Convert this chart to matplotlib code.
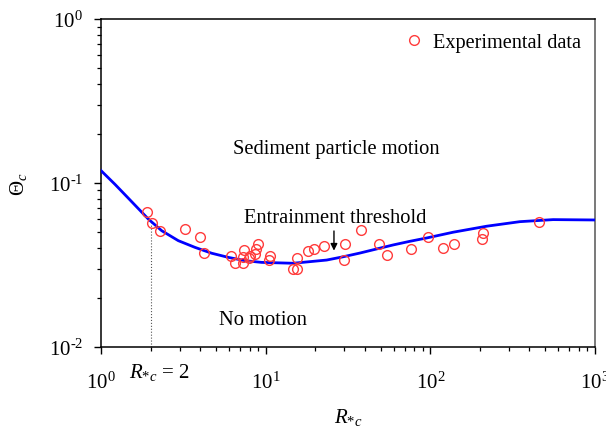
import matplotlib
matplotlib.use("Agg")
from matplotlib import pyplot as plt
from matplotlib.ticker import LogLocator, NullFormatter, FuncFormatter
import numpy as np

plt.rcParams['font.family'] = ['Liberation Serif', 'DejaVu Serif']
plt.rcParams['mathtext.fontset'] = 'custom'
plt.rcParams['mathtext.rm'] = 'Liberation Serif'
plt.rcParams['mathtext.it'] = 'Liberation Serif:italic'

# threshold curve
curve_x = [1.0, 1.216, 1.465, 1.937, 2.336, 2.946, 3.721, 4.70, 5.93, 7.49,
           9.46, 14.7, 23.5, 29.6, 37.4, 47.2, 59.5, 75.2, 95.0, 137.7,
           219.8, 350, 557, 1000]
curve_y = [0.119, 0.0981, 0.0808, 0.0603, 0.0512, 0.0445, 0.0405, 0.0373, 0.0352, 0.0336,
           0.0328, 0.0324, 0.0339, 0.0355, 0.0374, 0.0396, 0.0419, 0.0441, 0.0462, 0.0501,
           0.0545, 0.0581, 0.0598, 0.0595]

# experimental points
exp_x = [1.91, 2.04, 2.28, 3.25, 4.01, 4.20, 6.18, 6.48, 7.38, 7.25,
         7.31, 7.89, 8.03, 8.58, 8.73, 8.98, 10.5, 10.7, 14.6, 15.6,
         15.6, 18.1, 19.7, 22.7, 29.9, 30.2, 38.1, 48.5, 54.7, 76.2,
         96.7, 119, 140, 210, 205, 458]
exp_y = [0.0668, 0.0568, 0.0508, 0.0524, 0.0467, 0.0376, 0.0359, 0.0327, 0.0389, 0.0355,
         0.0327, 0.0347, 0.0360, 0.0367, 0.0394, 0.0425, 0.0341, 0.0357, 0.0298, 0.0298,
         0.0347, 0.0387, 0.0396, 0.0415, 0.0338, 0.0425, 0.0517, 0.0425, 0.0365, 0.0396,
         0.0469, 0.0403, 0.0426, 0.0498, 0.0456, 0.0581]

fig = plt.figure(figsize=(6.06, 4.31), dpi=100)
ax = fig.add_axes([0.1667, 0.1926, 0.815, 0.761])

ax.plot(curve_x, curve_y, color='#0000ff', lw=2.0, zorder=3)
ax.plot(exp_x, exp_y, 'o', mfc='none', mec='#ff3b3b', ms=7, mew=1.0,
        label='Experimental data', zorder=4)

# R*c = 2 marker line
ax.plot([2, 2], [0.01, 0.0568], color='#555555', lw=0.8, ls=':', zorder=2)

ax.set_xscale('log')
ax.set_yscale('log')
ax.set_xlim(1, 1000)
ax.set_ylim(0.01, 1)


def pow_label(v, pos):
    e = int(round(np.log10(v)))
    if e < 0:
        return r'$10^{\text{-}%d}$' % (-e)
    return r'$10^{%d}$' % e


ax.xaxis.set_major_locator(LogLocator(base=10))
ax.xaxis.set_minor_locator(LogLocator(base=10, subs=range(2, 10)))
ax.xaxis.set_major_formatter(FuncFormatter(pow_label))
ax.yaxis.set_major_formatter(FuncFormatter(pow_label))
ax.xaxis.set_minor_formatter(NullFormatter())
ax.yaxis.set_minor_formatter(NullFormatter())
ax.tick_params(which='major', direction='out', length=5, width=1.0, labelsize=15)
ax.tick_params(axis='x', which='major', pad=13)
ax.tick_params(axis='y', which='major', pad=8)
ax.tick_params(which='minor', direction='out', length=3, width=0.9)
ax.tick_params(top=False, right=False, which='both')
for s in ax.spines.values():
    s.set_linewidth(1.1)
ax.spines['right'].set_color('#555555')

ax.set_xlabel(r'$R_{*c}$', fontsize=15, labelpad=9)
ax.set_ylabel(r'$\Theta_c$', fontsize=15, labelpad=14)

ax.text(0.476, 0.604, 'Sediment particle motion', transform=ax.transAxes,
        ha='center', va='center', fontsize=14.8)
ax.text(0.474, 0.396, 'Entrainment threshold', transform=ax.transAxes,
        ha='center', va='center', fontsize=14.8)
ax.annotate('', xy=(26, 0.0372), xytext=(26, 0.053),
            arrowprops=dict(arrowstyle='-|>', color='black', lw=1.0, mutation_scale=10))
ax.text(0.328, 0.085, 'No motion', transform=ax.transAxes,
        ha='center', va='center', fontsize=14.8)
ax.text(2.25, 0.0071, r'$R_{*c}$ = 2', ha='center', va='center', fontsize=15,
        clip_on=False)

ax.legend(loc='upper right', frameon=False, fontsize=14.6, handletextpad=0.3,
          borderaxespad=0.3, handlelength=1.2)

fig.savefig('out.png', dpi=100)
